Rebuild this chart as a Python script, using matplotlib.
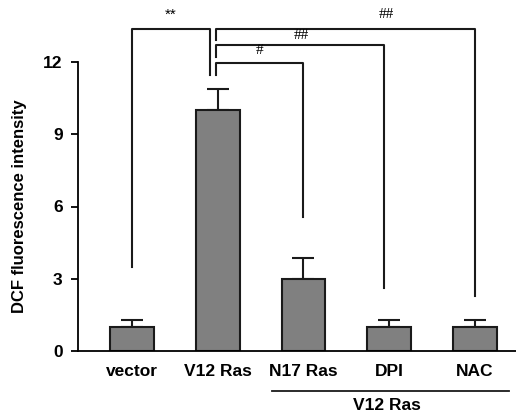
import matplotlib
matplotlib.use("Agg")
import matplotlib.pyplot as plt
import matplotlib.transforms as mtransforms
import numpy as np

groups = ["vector", "V12 Ras", "N17 Ras", "DPI", "NAC"]
means = [1.0, 10.0, 3.0, 1.0, 1.0]
errs = [0.3, 0.87, 0.88, 0.3, 0.3]
yticks = [0, 3, 6, 9, 12]

# significance brackets: (x1, x2, height, left leg end, right leg end, label)
brackets = [
    (0.0, 0.91, 13.37, 3.5, 11.46, "**"),
    (0.98, 4.0, 13.37, 12.92, 2.28, "##"),
    (0.98, 2.94, 12.71, 12.21, 2.63, "##"),
    (0.98, 2.0, 11.96, 11.46, 5.55, "#"),
]
label_pos = [(0.45, 13.65), (2.97, 13.7), (1.98, 12.85), (1.49, 12.2)]

plt.rcParams["font.family"] = ["Liberation Sans", "DejaVu Sans"]
plt.rcParams["font.weight"] = "bold"

fig = plt.figure(figsize=(5.16, 4.16), dpi=100)
ax = fig.add_axes([78 / 516, 65 / 416, 438 / 516, 289 / 416])

x = np.arange(len(groups))
ax.bar(x, means, width=0.51, color="#808080", edgecolor="#1a1a1a", linewidth=1.5, zorder=2)
ax.errorbar(x, means, yerr=[np.zeros(len(errs)), errs], fmt="none", ecolor="#1a1a1a",
            elinewidth=1.5, capsize=8, capthick=1.5, zorder=1)

for (x1, x2, h, l1, l2, lab), (tx, ty) in zip(brackets, label_pos):
    ax.plot([x1, x1, x2, x2], [l1, h, h, l2], color="#1a1a1a", lw=1.5, clip_on=False)
    ax.text(tx, ty, lab, ha="center", va="bottom", fontsize=11, fontweight="normal",
            family=["Liberation Serif"] if "#" in lab else None)

ax.set_xlim(-0.63, 4.48)
ax.set_ylim(0, 12)
ax.set_yticks(yticks)
ax.set_xticks(x)
ax.set_xticklabels(groups, fontsize=12.5, fontweight="bold")
ax.tick_params(axis="x", length=0, pad=9)
ax.tick_params(axis="y", length=5, width=1.3, pad=6, labelsize=12.5)
for t in ax.get_yticklabels():
    t.set_fontweight("bold")
ax.set_ylabel("DCF fluorescence intensity", fontsize=12, fontweight="bold", labelpad=12)

for s in ["top", "right"]:
    ax.spines[s].set_visible(False)
ax.spines["left"].set_linewidth(1.3)
ax.spines["bottom"].set_linewidth(1.3)

trans = mtransforms.blended_transform_factory(ax.transData, ax.transAxes)
ax.plot([1.63, 4.4], [-0.138, -0.138], color="#1a1a1a", lw=1.3, transform=trans, clip_on=False)
ax.text(2.97, -0.163, "V12 Ras", transform=trans, ha="center", va="top",
        fontsize=12.5, fontweight="bold")

fig.savefig("out.png", dpi=100)
